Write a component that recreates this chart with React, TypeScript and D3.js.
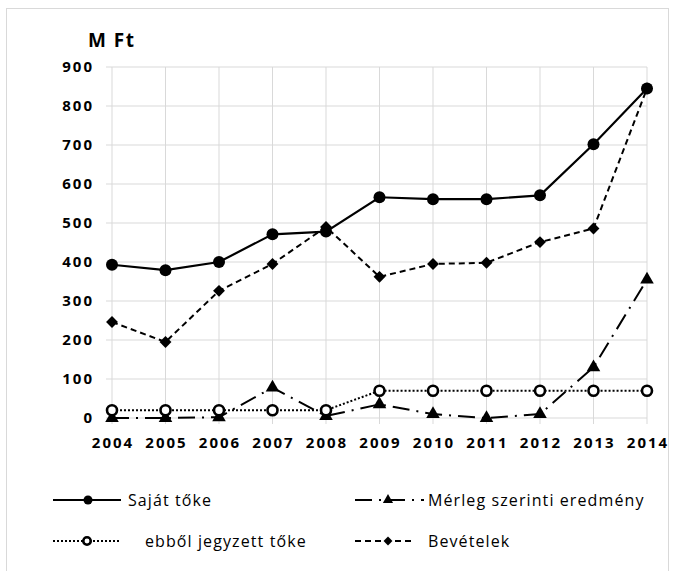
import * as d3 from "d3";

const years = [2004, 2005, 2006, 2007, 2008, 2009, 2010, 2011, 2012, 2013, 2014];
const sajatToke = [393, 379, 400, 471, 478, 566, 561, 561, 571, 702, 845];
const merleg = [0, 0, 2, 78, 5, 35, 10, 0, 10, 130, 355];
const jegyzett = [20, 20, 20, 20, 20, 70, 70, 70, 70, 70, 70];
const bevetelek = [246, 195, 326, 395, 490, 362, 395, 398, 451, 486, 845];
const yTicks = [0, 100, 200, 300, 400, 500, 600, 700, 800, 900];

const font = "'Open Sans', 'DejaVu Sans', sans-serif";
const grid = "#d9d9d9";

function Marker({ kind, x, y, k = 1 }) {
  if (kind === "circle") return <circle cx={x} cy={y} r={6 * k} fill="#000" />;
  if (kind === "open")
    return <circle cx={x} cy={y} r={5 * k} fill="#fff" stroke="#000" strokeWidth={2.6} />;
  if (kind === "triangle")
    return <path d={d3.symbol(d3.symbolTriangle, 80 * k * k)()} transform={`translate(${x},${y})`} fill="#000" />;
  return <path d={d3.symbol(d3.symbolDiamond2, 90 * k * k)()} transform={`translate(${x},${y})`} fill="#000" />;
}

export default function App({
  width = 676,
  height = 571,
  marginLeft = 112,
  marginRight = 29,
  marginTop = 67,
  marginBottom = 153,
}) {
  const x = d3.scaleLinear([2004, 2014], [marginLeft, width - marginRight]);
  const y = d3.scaleLinear([0, 900], [height - marginBottom, marginTop]);
  const line = d3.line((d, i) => x(years[i]), (d) => y(d));

  const series = [
    { name: "Saját tőke", data: sajatToke, dash: null, marker: "circle", w: 2.2 },
    { name: "Mérleg szerinti eredmény", data: merleg, dash: "17,7,2,7", marker: "triangle", w: 2 },
    { name: "ebből jegyzett tőke", data: jegyzett, dash: "2,2", marker: "open", w: 2 },
    { name: "Bevételek", data: bevetelek, dash: "6,4", marker: "diamond", w: 2 },
  ];

  const legend = [
    { s: series[0], x0: 53, x1: 121, mx: 88, ty: 500, tx: 128 },
    { s: series[1], x0: 355, x1: 424, mx: 388, ty: 500, tx: 428 },
    { s: series[2], x0: 53, x1: 121, mx: 87, ty: 541, tx: 145 },
    { s: series[3], x0: 355, x1: 412, mx: 388, ty: 541, tx: 428 },
  ];

  return (
    <svg width={width} height={height} style={{ position: "absolute", left: 0, top: 0 }} fontFamily={font}>
      <rect width={width} height={height} fill="#fff" />
      <rect x={6.5} y={8.5} width={662} height={580} fill="none" stroke={grid} />
      <text x={88} y={47} fontSize={19} fontWeight="bold" letterSpacing={1.5}>M Ft</text>
      <g stroke={grid} strokeWidth={1}>
        {yTicks.map((t) => (
          <line key={t} x1={marginLeft - 6} x2={x(2014)} y1={y(t)} y2={y(t)} />
        ))}
        {years.map((yr) => (
          <line key={yr} x1={x(yr)} x2={x(yr)} y1={y(900)} y2={y(0) + 6} />
        ))}
      </g>
      <g fontSize={15} fontWeight="bold" fill="#000">
        {yTicks.map((t) => (
          <text key={t} x={94} y={y(t)} dy="0.36em" textAnchor="end" letterSpacing={2}>{t}</text>
        ))}
        {years.map((yr) => (
          <text key={yr} x={x(yr) + 1} y={443} dy="0.36em" textAnchor="middle" letterSpacing={2}>{yr}</text>
        ))}
      </g>
      {series.map((s) => (
        <g key={s.name}>
          <path d={line(s.data)} fill="none" stroke="#000" strokeWidth={s.w} strokeDasharray={s.dash ?? undefined} />
          {s.data.map((d, i) => (
            // biome-ignore lint/suspicious/noArrayIndexKey: <explanation>
            <Marker key={i} kind={s.marker} x={x(years[i])} y={y(d)} />
          ))}
        </g>
      ))}
      <g fontSize={16} letterSpacing={1.1}>
        {legend.map((l) => (
          <g key={l.s.name}>
            <line x1={l.x0} x2={l.x1} y1={l.ty} y2={l.ty} stroke="#000" strokeWidth={l.s.w} strokeDasharray={l.s.dash ?? undefined} />
            <Marker kind={l.s.marker} x={l.mx} y={l.ty} k={0.75} />
            <text x={l.tx} y={l.ty} dy="0.35em">{l.s.name}</text>
          </g>
        ))}
      </g>
    </svg>
  );
}
